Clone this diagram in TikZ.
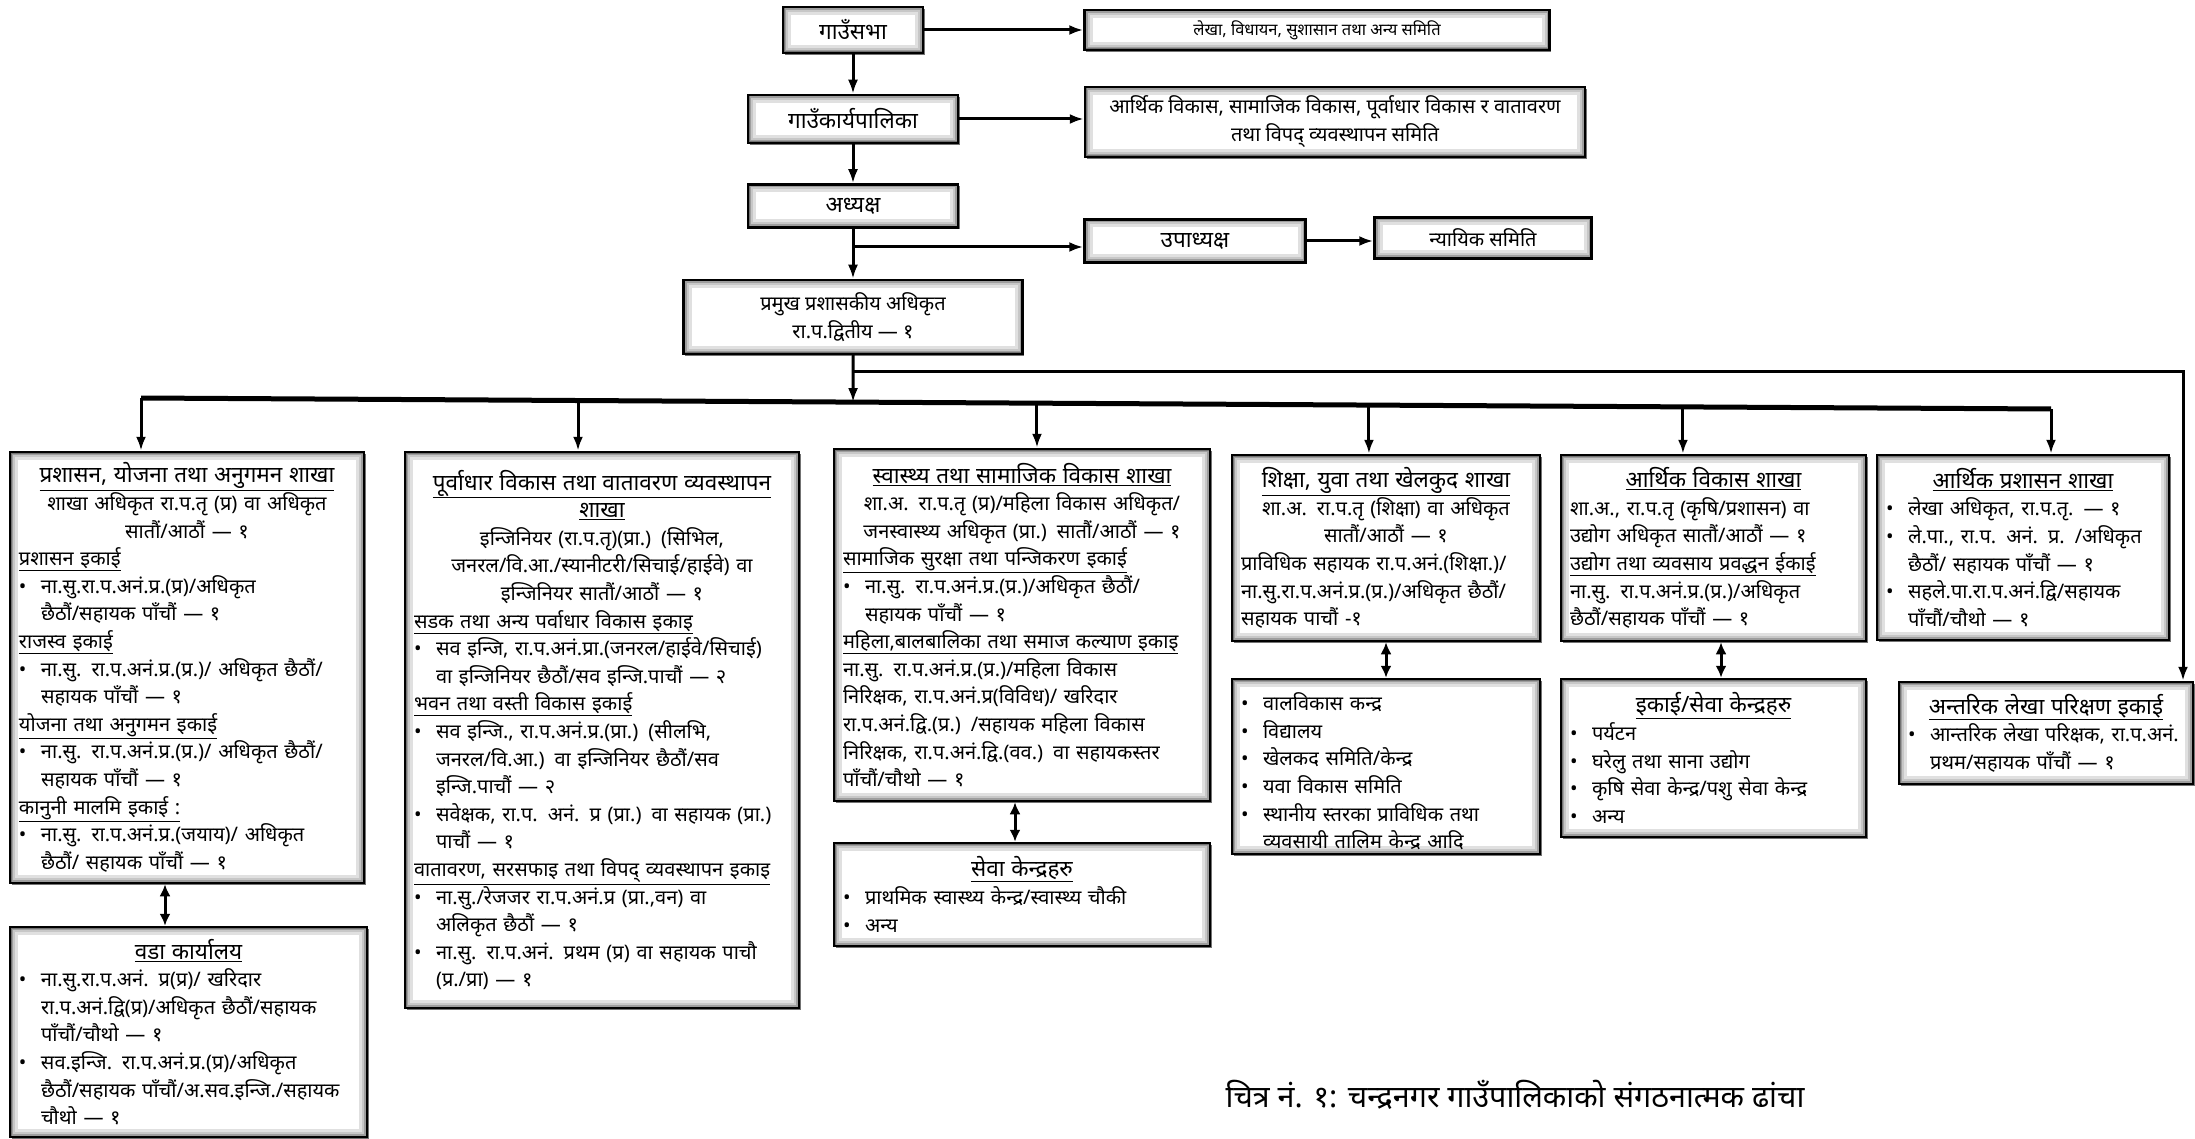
\documentclass[tikz,border=0pt]{standalone}
\usepackage{fontspec}
\setmainfont[Script=Devanagari]{Noto Sans}
\usetikzlibrary{arrows.meta,shadows}

\newcommand\hd[1]{\underline{\fontsize{22.5pt}{27.6pt}\selectfont\bfseries #1}}
\newcommand\sh[1]{\underline{\bfseries #1}}
\newcommand\itm{\par\hangindent=1.1em\hangafter=1\noindent\makebox[1.1em][l]{•}}

\tikzset{
	orgbox/.style={draw=black,line width=2.5pt,fill=white,inner xsep=8pt,inner ysep=4pt,align=left,
		font=\fontsize{20pt}{27.6pt}\selectfont,
		general shadow={fill=black!55,shadow xshift=1.5pt,shadow yshift=-2pt},
		path picture={\foreach \ww/\cc in {16/12,10/22,6/38,3/55}
			\draw[line width=\ww pt,black!\cc] (path picture bounding box.south west) rectangle (path picture bounding box.north east);}},
	topbox/.style={orgbox,align=center},
	bold/.style={font=\bfseries\fontsize{22.5pt}{24pt}\selectfont},
	arr/.style={line width=3pt,-{Latex[length=14pt,width=10pt]}},
	dbl/.style={line width=3pt,{Latex[length=12pt,width=11pt]}-{Latex[length=12pt,width=11pt]}},
	bus/.style={line width=5pt}
}

\begin{document}
\begin{tikzpicture}[x=1pt,y=-1pt]
	\useasboundingbox (0,0) rectangle (2195,1139);
	% top of the structure
	\node[topbox,bold,minimum width=140,minimum height=46] (sabha) at (853,30) {गाउँसभा};
	\node[topbox,minimum width=465,minimum height=40,font=\fontsize{16.5pt}{20pt}\selectfont] (sabhaR) at (1317,30) {लेखा, विधायन, सुशासान तथा अन्य समिति};
	\node[topbox,bold,minimum width=210,minimum height=48] (karya) at (853,119) {गाउँकार्यपालिका};
	\node[topbox,minimum width=500,minimum height=70,font=\fontsize{20pt}{28pt}\selectfont] (karyaR) at (1335,122) {आर्थिक विकास, सामाजिक विकास, पूर्वाधार विकास र वातावरण\\ तथा विपद् व्यवस्थापन समिति};
	\node[topbox,bold,minimum width=210,minimum height=43] (adhy) at (853,206) {अध्यक्ष};
	\node[topbox,bold,minimum width=221,minimum height=43] (upa) at (1195,241) {उपाध्यक्ष};
	\node[topbox,minimum width=217,minimum height=41,font=\fontsize{20pt}{22pt}\selectfont] (nyay) at (1483,238) {न्यायिक समिति};
	\node[topbox,minimum width=339,minimum height=74,font=\fontsize{20pt}{28pt}\selectfont] (cao) at (853,317) {{\bfseries\fontsize{20pt}{28pt}\selectfont प्रमुख प्रशासकीय अधिकृत}\\ रा.प.द्वितीय — १};
		\draw[arr] (sabha) -- (sabhaR);
		\draw[arr] (sabha) -- (karya);
		\draw[arr] (karya.east) -- (karya.east -| karyaR.west);
		\draw[arr] (karya) -- (adhy);
		\draw[arr] (adhy) -- (cao);
		\coordinate (ju) at (853,247);
		\draw[arr] (ju) -- (ju -| upa.west);
		\draw[arr] (upa.east) -- (upa.east -| nyay.west);
	% branches
	\node[orgbox,minimum width=354,minimum height=431,text width=336] (b1) at (187,667.5) {%
		{\centering\hd{प्रशासन, योजना तथा अनुगमन शाखा}\\ शाखा अधिकृत रा.प.तृ (प्र) वा अधिकृत\\ सातौं/आठौं — १\par}
		\sh{प्रशासन इकाई}
		\itm ना.सु.रा.प.अनं.प्र.(प्र)/अधिकृत\newline छैठौं/सहायक पाँचौं — १
		\par\sh{राजस्व इकाई}
		\itm ना.सु. रा.प.अनं.प्र.(प्र.)/ अधिकृत छैठौं/\newline सहायक पाँचौं — १
		\par\sh{योजना तथा अनुगमन इकाई}
		\itm ना.सु. रा.प.अनं.प्र.(प्र.)/ अधिकृत छैठौं/\newline सहायक पाँचौं — १
		\par\sh{कानुनी मालमि इकाई :}
		\itm ना.सु. रा.प.अनं.प्र.(जयाय)/ अधिकृत\newline छैठौं/ सहायक पाँचौं — १\par};
	\node[orgbox,minimum width=357,minimum height=210,text width=339] (ward) at (188.5,1032) {%
		{\centering\hd{वडा कार्यालय}\par}
		\itm ना.सु.रा.प.अनं. प्र(प्र)/ खरिदार\newline रा.प.अनं.द्वि(प्र)/अधिकृत छैठौं/सहायक\newline पाँचौं/चौथो — १
		\itm सव.इन्जि. रा.प.अनं.प्र.(प्र)/अधिकृत\newline छैठौं/सहायक पाँचौं/अ.सव.इन्जि./सहायक\newline चौथो — १\par};
	\node[orgbox,minimum width=394,minimum height=556,text width=376] (b2) at (602,730) {%
		{\centering\hd{पूर्वाधार विकास तथा वातावरण व्यवस्थापन}\\ \hd{शाखा}\\ इन्जिनियर (रा.प.तृ)(प्रा.) (सिभिल,\\ जनरल/वि.आ./स्यानीटरी/सिचाई/हाईवे) वा\\ इन्जिनियर सातौं/आठौं — १\par}
		\sh{सडक तथा अन्य पर्वाधार विकास इकाइ}
		\itm सव इन्जि, रा.प.अनं.प्रा.(जनरल/हाईवे/सिचाई)\newline वा इन्जिनियर छैठौं/सव इन्जि.पाचौं — २
		\par\sh{भवन तथा वस्ती विकास इकाई}
		\itm सव इन्जि., रा.प.अनं.प्र.(प्रा.) (सीलभि,\newline जनरल/वि.आ.) वा इन्जिनियर छैठौं/सव\newline इन्जि.पाचौं — २
		\itm सवेक्षक, रा.प. अनं. प्र (प्रा.) वा सहायक (प्रा.)\newline पाचौं — १
		\par\sh{वातावरण, सरसफाइ तथा विपद् व्यवस्थापन इकाइ}
		\itm ना.सु./रेजजर रा.प.अनं.प्र (प्रा.,वन) वा\newline अलिकृत छैठौं — १
		\itm ना.सु. रा.प.अनं. प्रथम (प्र) वा सहायक पाचौ\newline (प्र./प्रा) — १\par};
	\node[orgbox,minimum width=376,minimum height=352,text width=358] (b3) at (1022,625) {%
		{\centering\hd{स्वास्थ्य तथा सामाजिक विकास शाखा}\\ शा.अ. रा.प.तृ (प्र)/महिला विकास अधिकृत/\\ जनस्वास्थ्य अधिकृत (प्रा.) सातौं/आठौं — १\par}
		\sh{सामाजिक सुरक्षा तथा पन्जिकरण इकाई}
		\itm ना.सु. रा.प.अनं.प्र.(प्र.)/अधिकृत छैठौं/\newline सहायक पाँचौं — १
		\par\sh{महिला,बालबालिका तथा समाज कल्याण इकाइ}
		\par ना.सु. रा.प.अनं.प्र.(प्र.)/महिला विकास\\ निरिक्षक, रा.प.अनं.प्र(विविध)/ खरिदार\\ रा.प.अनं.द्वि.(प्र.) /सहायक महिला विकास\\ निरिक्षक, रा.प.अनं.द्वि.(वव.) वा सहायकस्तर\\ पाँचौं/चौथो — १\par};
	\node[orgbox,minimum width=376,minimum height=103,text width=358] (sewa) at (1022,894.5) {%
		{\centering\hd{सेवा केन्द्रहरु}\par}
		\itm प्राथमिक स्वास्थ्य केन्द्र/स्वास्थ्य चौकी
		\itm अन्य\par};
	\node[orgbox,minimum width=308,minimum height=186,text width=290] (b4) at (1386,548) {%
		{\centering\hd{शिक्षा, युवा तथा खेलकुद शाखा}\\ शा.अ. रा.प.तृ (शिक्षा) वा अधिकृत\\ सातौं/आठौं — १\par}
		प्राविधिक सहायक रा.प.अनं.(शिक्षा.)/\\ ना.सु.रा.प.अनं.प्र.(प्र.)/अधिकृत छैठौं/\\ सहायक पाचौं -१\par};
	\node[orgbox,minimum width=308,minimum height=175,text width=290] (b4s) at (1386,766.5) {%
		\itm वालविकास कन्द्र
		\itm विद्यालय
		\itm खेलकद समिति/केन्द्र
		\itm यवा विकास समिति
		\itm स्थानीय स्तरका प्राविधिक तथा\newline व्यवसायी तालिम केन्द्र आदि\par};
	\node[orgbox,minimum width=305,minimum height=186,text width=287] (b5) at (1713.5,548) {%
		{\centering\hd{आर्थिक विकास शाखा}\par}
		शा.अ., रा.प.तृ (कृषि/प्रशासन) वा\\ उद्योग अधिकृत सातौं/आठौं — १
		\par\sh{उद्योग तथा व्यवसाय प्रवद्धन ईकाई}
		\par ना.सु. रा.प.अनं.प्र.(प्र.)/अधिकृत\\ छैठौं/सहायक पाँचौं — १\par};
	\node[orgbox,minimum width=305,minimum height=158,text width=287] (b5s) at (1713.5,758) {%
		{\centering\hd{इकाई/सेवा केन्द्रहरु}\par}
		\itm पर्यटन
		\itm घरेलु तथा साना उद्योग
		\itm कृषि सेवा केन्द्र/पशु सेवा केन्द्र
		\itm अन्य\par};
	\node[orgbox,minimum width=292,minimum height=185,text width=274] (b6) at (2023,547.5) {%
		{\centering\hd{आर्थिक प्रशासन शाखा}\par}
		\itm लेखा अधिकृत, रा.प.तृ. — १
		\itm ले.पा., रा.प. अनं. प्र. /अधिकृत\newline छैठौं/ सहायक पाँचौं — १
		\itm सहले.पा.रा.प.अनं.द्वि/सहायक\newline पाँचौं/चौथो — १\par};
	\node[orgbox,minimum width=294,minimum height=102,text width=276] (audit) at (2046,733) {%
		{\centering\hd{अन्तरिक लेखा परिक्षण इकाई}\par}
		\itm आन्तरिक लेखा परिक्षक, रा.प.अनं.\newline प्रथम/सहायक पाँचौं — १\par};
	% connectors to the branches
	\coordinate (busL) at (141,398);
	\coordinate (busR) at (2051,409);
	\draw[bus] (busL) -- (busR);
	\path (busL) -- (busR) coordinate[pos=0.3728] (t0) coordinate[pos=0.2288] (t2) coordinate[pos=0.4691] (t3) coordinate[pos=0.6429] (t4) coordinate[pos=0.8073] (t5);
		\draw[arr] (cao) -- (t0);
		\draw[arr] (busL) -- (busL |- b1.north);
		\draw[arr] (t2) -- (t2 |- b2.north);
		\draw[arr] (t3) -- (t3 |- b3.north);
		\draw[arr] (t4) -- (t4 |- b4.north);
		\draw[arr] (t5) -- (t5 |- b5.north);
		\draw[arr] (busR) -- (busR |- b6.north);
	\coordinate (j) at (853,372);
	\coordinate (jr) at (2183,372);
	\draw[arr] (j) -- (jr) -- (jr |- audit.north);
	\coordinate (d1) at (165,0);
	\coordinate (d3) at (1015,0);
	\coordinate (d5) at (1721,0);
		\draw[dbl] (b1.south -| d1) -- (ward.north -| d1);
		\draw[dbl] (b3.south -| d3) -- (sewa.north -| d3);
		\draw[dbl] (b4) -- (b4s);
		\draw[dbl] (b5.south -| d5) -- (b5s.north -| d5);
	\node (cap) at (1515,1095) {\fontsize{30.5pt}{36pt}\selectfont चित्र नं. १: चन्द्रनगर गाउँपालिकाको संगठनात्मक ढांचा};
\end{tikzpicture}
\end{document}
